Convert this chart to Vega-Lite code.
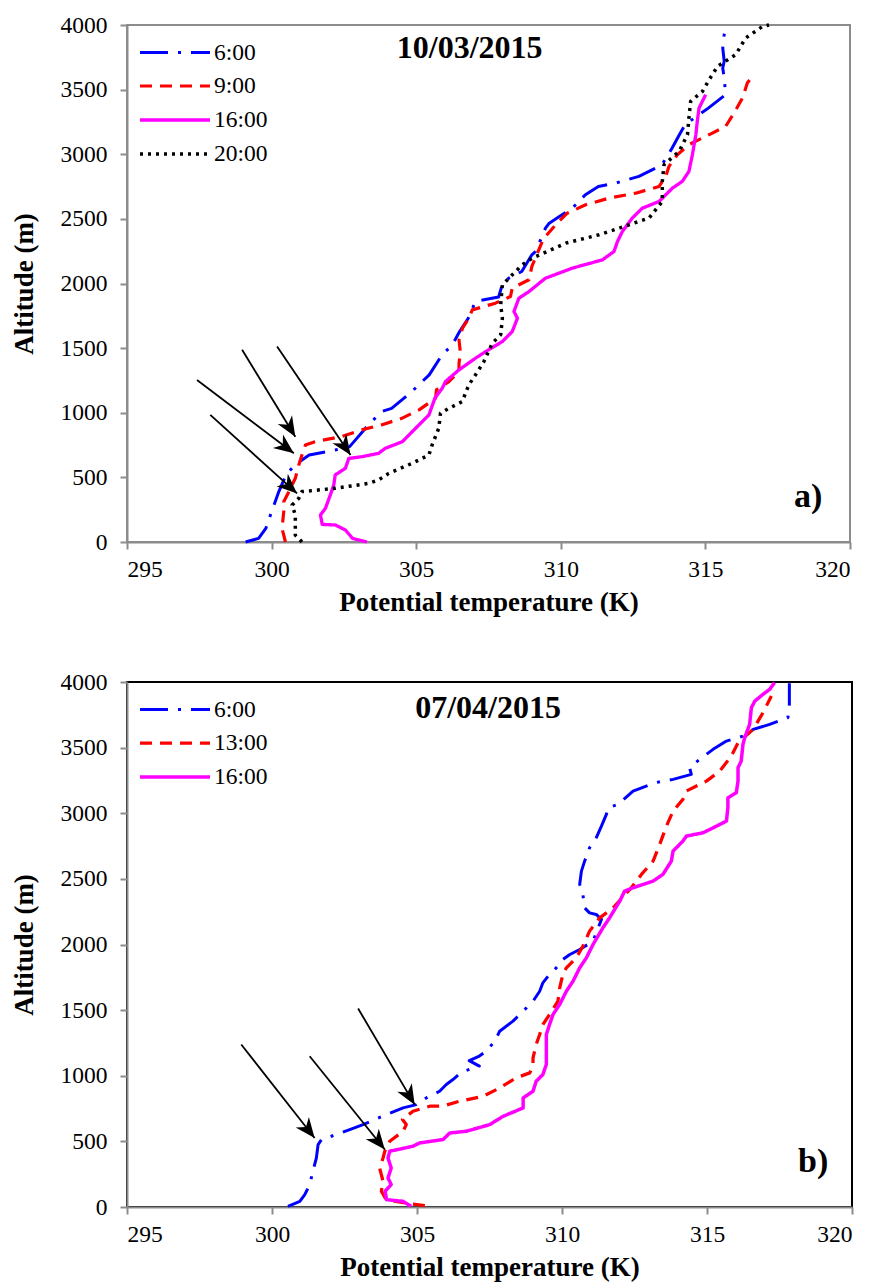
{
  "$schema": "https://vega.github.io/schema/vega-lite/v6.json",
  "background": "white",
  "padding": {"left": 9, "top": 12, "right": 10, "bottom": 2},
  "spacing": 52,
  "config": {
    "font": "Times New Roman",
    "axis": {
      "grid": false,
      "domainColor": "#8c8c8c",
      "domainWidth": 2,
      "tickColor": "#8c8c8c",
      "tickWidth": 2,
      "tickSize": 7,
      "labelFont": "Times New Roman",
      "labelFontSize": 23.5,
      "labelColor": "#000000",
      "titleFont": "Times New Roman",
      "titleFontSize": 27,
      "titleFontWeight": "bold",
      "titleColor": "#000000"
    },
    "axisX": {"labelPadding": 8, "titlePadding": 9},
    "axisY": {"labelPadding": 13, "titlePadding": 22},
    "legend": {
      "title": null,
      "orient": "none",
      "symbolType": "M-1,0H4",
      "symbolSize": 784,
      "symbolStrokeWidth": 3.5,
      "labelFont": "Times New Roman",
      "labelFontSize": 23.5,
      "labelColor": "#000000",
      "labelOffset": 44,
      "rowPadding": 6,
      "padding": 0
    }
  },
  "resolve": {
    "scale": {"x": "independent", "y": "independent", "color": "independent", "strokeDash": "independent", "strokeWidth": "independent"},
    "legend": {"color": "independent", "strokeDash": "independent"}
  },
  "vconcat": [
    {
      "width": 723,
      "height": 517,
      "view": {"stroke": "#8c8c8c", "strokeWidth": 2},
      "layer": [
        {
          "data": {"values": [
            {"series": "6:00", "t": 299.1, "alt": 0}, {"series": "6:00", "t": 299.55, "alt": 28}, {"series": "6:00", "t": 299.8, "alt": 105}, {"series": "6:00", "t": 300.0, "alt": 235}, {"series": "6:00", "t": 300.25, "alt": 390}, {"series": "6:00", "t": 300.5, "alt": 520}, {"series": "6:00", "t": 300.8, "alt": 596}, {"series": "6:00", "t": 301.3, "alt": 673}, {"series": "6:00", "t": 302.2, "alt": 712}, {"series": "6:00", "t": 302.7, "alt": 738}, {"series": "6:00", "t": 303.35, "alt": 906}, {"series": "6:00", "t": 303.8, "alt": 1009}, {"series": "6:00", "t": 304.15, "alt": 1034}, {"series": "6:00", "t": 304.85, "alt": 1164}, {"series": "6:00", "t": 305.45, "alt": 1293}, {"series": "6:00", "t": 305.9, "alt": 1450}, {"series": "6:00", "t": 306.25, "alt": 1525}, {"series": "6:00", "t": 306.5, "alt": 1628}, {"series": "6:00", "t": 306.8, "alt": 1731}, {"series": "6:00", "t": 306.95, "alt": 1809}, {"series": "6:00", "t": 307.05, "alt": 1861}, {"series": "6:00", "t": 307.85, "alt": 1895}, {"series": "6:00", "t": 307.98, "alt": 1995}, {"series": "6:00", "t": 308.2, "alt": 2041}, {"series": "6:00", "t": 308.65, "alt": 2093}, {"series": "6:00", "t": 309.0, "alt": 2222}, {"series": "6:00", "t": 309.13, "alt": 2248}, {"series": "6:00", "t": 309.47, "alt": 2428}, {"series": "6:00", "t": 309.6, "alt": 2467}, {"series": "6:00", "t": 309.95, "alt": 2519}, {"series": "6:00", "t": 310.4, "alt": 2583}, {"series": "6:00", "t": 310.85, "alt": 2687}, {"series": "6:00", "t": 311.3, "alt": 2751}, {"series": "6:00", "t": 311.9, "alt": 2777}, {"series": "6:00", "t": 312.7, "alt": 2829}, {"series": "6:00", "t": 313.05, "alt": 2867}, {"series": "6:00", "t": 313.5, "alt": 2919}, {"series": "6:00", "t": 313.85, "alt": 3048}, {"series": "6:00", "t": 314.1, "alt": 3151}, {"series": "6:00", "t": 314.3, "alt": 3229}, {"series": "6:00", "t": 315.1, "alt": 3357}, {"series": "6:00", "t": 315.7, "alt": 3461}, {"series": "6:00", "t": 315.65, "alt": 3590}, {"series": "6:00", "t": 315.6, "alt": 3667}, {"series": "6:00", "t": 315.65, "alt": 3720}, {"series": "6:00", "t": 315.6, "alt": 3822}, {"series": "6:00", "t": 315.65, "alt": 3926}, {"series": "6:00", "t": 315.75, "alt": 3990},

            {"series": "9:00", "t": 300.48, "alt": 0}, {"series": "9:00", "t": 300.36, "alt": 105}, {"series": "9:00", "t": 300.42, "alt": 235}, {"series": "9:00", "t": 300.42, "alt": 312}, {"series": "9:00", "t": 300.6, "alt": 390}, {"series": "9:00", "t": 300.82, "alt": 493}, {"series": "9:00", "t": 300.94, "alt": 596}, {"series": "9:00", "t": 301.05, "alt": 673}, {"series": "9:00", "t": 301.17, "alt": 751}, {"series": "9:00", "t": 301.5, "alt": 776}, {"series": "9:00", "t": 302.4, "alt": 815}, {"series": "9:00", "t": 303.1, "alt": 867}, {"series": "9:00", "t": 303.8, "alt": 906}, {"series": "9:00", "t": 304.5, "alt": 957}, {"series": "9:00", "t": 305.1, "alt": 1022}, {"series": "9:00", "t": 305.67, "alt": 1112}, {"series": "9:00", "t": 305.7, "alt": 1177}, {"series": "9:00", "t": 306.13, "alt": 1241}, {"series": "9:00", "t": 306.48, "alt": 1319}, {"series": "9:00", "t": 306.48, "alt": 1383}, {"series": "9:00", "t": 306.53, "alt": 1460}, {"series": "9:00", "t": 306.48, "alt": 1564}, {"series": "9:00", "t": 306.6, "alt": 1654}, {"series": "9:00", "t": 306.82, "alt": 1731}, {"series": "9:00", "t": 306.94, "alt": 1796}, {"series": "9:00", "t": 307.74, "alt": 1848}, {"series": "9:00", "t": 308.26, "alt": 1899}, {"series": "9:00", "t": 308.32, "alt": 1964}, {"series": "9:00", "t": 308.9, "alt": 2029}, {"series": "9:00", "t": 309.0, "alt": 2132}, {"series": "9:00", "t": 309.36, "alt": 2325}, {"series": "9:00", "t": 309.47, "alt": 2364}, {"series": "9:00", "t": 309.82, "alt": 2454}, {"series": "9:00", "t": 310.22, "alt": 2544}, {"series": "9:00", "t": 310.86, "alt": 2609}, {"series": "9:00", "t": 311.67, "alt": 2661}, {"series": "9:00", "t": 312.59, "alt": 2699}, {"series": "9:00", "t": 313.4, "alt": 2751}, {"series": "9:00", "t": 313.63, "alt": 2829}, {"series": "9:00", "t": 313.74, "alt": 2906}, {"series": "9:00", "t": 314.03, "alt": 2996}, {"series": "9:00", "t": 314.43, "alt": 3074}, {"series": "9:00", "t": 315.24, "alt": 3164}, {"series": "9:00", "t": 315.7, "alt": 3216}, {"series": "9:00", "t": 315.99, "alt": 3319}, {"series": "9:00", "t": 316.28, "alt": 3435}, {"series": "9:00", "t": 316.45, "alt": 3551}, {"series": "9:00", "t": 316.55, "alt": 3580},

            {"series": "16:00", "t": 303.3, "alt": 0}, {"series": "16:00", "t": 302.8, "alt": 28}, {"series": "16:00", "t": 302.55, "alt": 93}, {"series": "16:00", "t": 302.2, "alt": 132}, {"series": "16:00", "t": 301.75, "alt": 136}, {"series": "16:00", "t": 301.69, "alt": 209}, {"series": "16:00", "t": 301.86, "alt": 260}, {"series": "16:00", "t": 302.03, "alt": 364}, {"series": "16:00", "t": 302.15, "alt": 441}, {"series": "16:00", "t": 302.2, "alt": 519}, {"series": "16:00", "t": 302.55, "alt": 570}, {"series": "16:00", "t": 302.67, "alt": 647}, {"series": "16:00", "t": 303.13, "alt": 660}, {"series": "16:00", "t": 303.7, "alt": 686}, {"series": "16:00", "t": 303.93, "alt": 725}, {"series": "16:00", "t": 304.52, "alt": 776}, {"series": "16:00", "t": 304.98, "alt": 880}, {"series": "16:00", "t": 305.44, "alt": 983}, {"series": "16:00", "t": 305.65, "alt": 1115}, {"series": "16:00", "t": 305.9, "alt": 1189}, {"series": "16:00", "t": 306.01, "alt": 1241}, {"series": "16:00", "t": 306.48, "alt": 1332}, {"series": "16:00", "t": 307.05, "alt": 1422}, {"series": "16:00", "t": 307.4, "alt": 1473}, {"series": "16:00", "t": 307.98, "alt": 1551}, {"series": "16:00", "t": 308.32, "alt": 1628}, {"series": "16:00", "t": 308.5, "alt": 1731}, {"series": "16:00", "t": 308.38, "alt": 1783}, {"series": "16:00", "t": 308.55, "alt": 1886}, {"series": "16:00", "t": 308.9, "alt": 1938}, {"series": "16:00", "t": 309.47, "alt": 2041}, {"series": "16:00", "t": 310.4, "alt": 2119}, {"series": "16:00", "t": 311.44, "alt": 2183}, {"series": "16:00", "t": 311.84, "alt": 2248}, {"series": "16:00", "t": 311.96, "alt": 2325}, {"series": "16:00", "t": 312.13, "alt": 2403}, {"series": "16:00", "t": 312.47, "alt": 2506}, {"series": "16:00", "t": 312.82, "alt": 2583}, {"series": "16:00", "t": 313.4, "alt": 2635}, {"series": "16:00", "t": 313.86, "alt": 2738}, {"series": "16:00", "t": 314.2, "alt": 2790}, {"series": "16:00", "t": 314.43, "alt": 2867}, {"series": "16:00", "t": 314.55, "alt": 2996}, {"series": "16:00", "t": 314.67, "alt": 3151}, {"series": "16:00", "t": 314.72, "alt": 3255}, {"series": "16:00", "t": 314.78, "alt": 3357}, {"series": "16:00", "t": 315.01, "alt": 3461},

            {"series": "20:00", "t": 301.05, "alt": 0}, {"series": "20:00", "t": 300.82, "alt": 54}, {"series": "20:00", "t": 300.82, "alt": 209}, {"series": "20:00", "t": 300.71, "alt": 286}, {"series": "20:00", "t": 300.94, "alt": 338}, {"series": "20:00", "t": 301.05, "alt": 390}, {"series": "20:00", "t": 302.2, "alt": 415}, {"series": "20:00", "t": 303.36, "alt": 454}, {"series": "20:00", "t": 303.7, "alt": 480}, {"series": "20:00", "t": 304.05, "alt": 531}, {"series": "20:00", "t": 304.86, "alt": 609}, {"series": "20:00", "t": 305.44, "alt": 673}, {"series": "20:00", "t": 305.55, "alt": 751}, {"series": "20:00", "t": 305.78, "alt": 880}, {"series": "20:00", "t": 305.84, "alt": 996}, {"series": "20:00", "t": 306.13, "alt": 1034}, {"series": "20:00", "t": 306.59, "alt": 1086}, {"series": "20:00", "t": 306.82, "alt": 1216}, {"series": "20:00", "t": 307.05, "alt": 1293}, {"series": "20:00", "t": 307.34, "alt": 1396}, {"series": "20:00", "t": 307.63, "alt": 1538}, {"series": "20:00", "t": 307.92, "alt": 1603}, {"series": "20:00", "t": 307.98, "alt": 1731}, {"series": "20:00", "t": 307.92, "alt": 1835}, {"series": "20:00", "t": 307.98, "alt": 1990}, {"series": "20:00", "t": 308.67, "alt": 2145}, {"series": "20:00", "t": 309.01, "alt": 2196}, {"series": "20:00", "t": 310.17, "alt": 2312}, {"series": "20:00", "t": 311.32, "alt": 2377}, {"series": "20:00", "t": 312.01, "alt": 2428}, {"series": "20:00", "t": 313.05, "alt": 2506}, {"series": "20:00", "t": 313.51, "alt": 2635}, {"series": "20:00", "t": 313.51, "alt": 2790}, {"series": "20:00", "t": 313.57, "alt": 2919}, {"series": "20:00", "t": 314.09, "alt": 3022}, {"series": "20:00", "t": 314.38, "alt": 3151}, {"series": "20:00", "t": 314.43, "alt": 3280}, {"series": "20:00", "t": 314.49, "alt": 3409}, {"series": "20:00", "t": 314.9, "alt": 3487}, {"series": "20:00", "t": 315.13, "alt": 3577}, {"series": "20:00", "t": 315.42, "alt": 3680}, {"series": "20:00", "t": 316.05, "alt": 3771}, {"series": "20:00", "t": 316.39, "alt": 3899}, {"series": "20:00", "t": 316.97, "alt": 3988}, {"series": "20:00", "t": 317.2, "alt": 4000}
          ]},
          "mark": {"type": "line", "strokeJoin": "round"},
          "encoding": {
            "x": {"field": "t", "type": "quantitative", "title": "Potential temperature (K)", "scale": {"domain": [295, 320], "nice": false, "zero": false},
                  "axis": {"values": [295, 300, 305, 310, 315, 320], "format": "d"}},
            "y": {"field": "alt", "type": "quantitative", "title": "Altitude (m)", "scale": {"domain": [0, 4000], "nice": false},
                  "axis": {"values": [0, 500, 1000, 1500, 2000, 2500, 3000, 3500, 4000], "format": "d"}},
            "color": {"field": "series", "type": "nominal", "scale": {"domain": ["6:00", "9:00", "16:00", "20:00"], "range": ["#0000ff", "#ff0000", "#ff00ff", "#000000"]}, "legend": {"legendX": 11, "legendY": 12}},
            "strokeDash": {"field": "series", "type": "nominal", "scale": {"domain": ["6:00", "9:00", "16:00", "20:00"], "range": [[28, 10, 3, 10], [12, 8], [1, 0], [3, 5]]}, "legend": {"legendX": 11, "legendY": 12}},
            "strokeWidth": {"field": "series", "type": "ordinal", "scale": {"domain": ["6:00", "9:00", "16:00", "20:00"], "range": [3, 3.5, 4.5, 3.5]}, "legend": null},
            "order": {"field": "alt", "type": "quantitative"}
          }
        },
        {
          "data": {"values": [
            {"t": 297.42, "alt": 1254, "t2": 300.77, "alt2": 686},
            {"t": 298.98, "alt": 1487, "t2": 300.82, "alt2": 815},
            {"t": 300.19, "alt": 1512, "t2": 302.73, "alt2": 673},
            {"t": 297.88, "alt": 983, "t2": 300.88, "alt2": 376}
          ]},
          "layer": [
            {
              "mark": {"type": "rule", "color": "#000000", "strokeWidth": 1.8},
              "encoding": {
                "x": {"field": "t", "type": "quantitative", "title": "Potential temperature (K)"},
                "y": {"field": "alt", "type": "quantitative", "title": "Altitude (m)"},
                "x2": {"field": "t2"},
                "y2": {"field": "alt2"}
              }
            },
            {
              "mark": {"type": "point", "shape": "M0,0L-1,-0.42L-0.7,0L-1,0.42Z", "filled": true, "color": "#000000", "opacity": 1, "size": 1600,
                       "angle": {"expr": "atan2((datum.alt - datum.alt2) * 517 / 4000, (datum.t2 - datum.t) * 723 / 25) * 180 / PI"}},
              "encoding": {
                "x": {"field": "t2", "type": "quantitative", "title": "Potential temperature (K)"},
                "y": {"field": "alt2", "type": "quantitative", "title": "Altitude (m)"}
              }
            }
          ]
        },
        {
          "data": {"values": [{}]},
          "mark": {"type": "text", "text": "10/03/2015", "font": "Times New Roman", "fontSize": 32, "fontWeight": "bold", "align": "center", "baseline": "middle", "color": "#000000"},
          "encoding": {
            "x": {"datum": 306.85, "type": "quantitative", "title": "Potential temperature (K)"},
            "y": {"datum": 3823, "type": "quantitative", "title": "Altitude (m)"}
          }
        },
        {
          "data": {"values": [{}]},
          "mark": {"type": "text", "text": "a)", "font": "Times New Roman", "fontSize": 34, "fontWeight": "bold", "align": "center", "baseline": "middle", "color": "#000000"},
          "encoding": {
            "x": {"datum": 318.55, "type": "quantitative", "title": "Potential temperature (K)"},
            "y": {"datum": 350, "type": "quantitative", "title": "Altitude (m)"}
          }
        }
      ]
    },
    {
      "width": 725,
      "height": 525,
      "view": {"stroke": "#000000", "strokeWidth": 2},
      "layer": [
        {
          "data": {"values": [
            {"series": "6:00", "t": 300.55, "alt": 5}, {"series": "6:00", "t": 300.96, "alt": 43}, {"series": "6:00", "t": 301.13, "alt": 94}, {"series": "6:00", "t": 301.3, "alt": 171}, {"series": "6:00", "t": 301.41, "alt": 272}, {"series": "6:00", "t": 301.53, "alt": 374}, {"series": "6:00", "t": 301.59, "alt": 476}, {"series": "6:00", "t": 301.71, "alt": 514}, {"series": "6:00", "t": 302.22, "alt": 552}, {"series": "6:00", "t": 302.68, "alt": 590}, {"series": "6:00", "t": 303.14, "alt": 628}, {"series": "6:00", "t": 303.94, "alt": 704}, {"series": "6:00", "t": 304.52, "alt": 755}, {"series": "6:00", "t": 304.98, "alt": 780}, {"series": "6:00", "t": 305.32, "alt": 831}, {"series": "6:00", "t": 305.78, "alt": 882}, {"series": "6:00", "t": 306.01, "alt": 933}, {"series": "6:00", "t": 306.24, "alt": 971}, {"series": "6:00", "t": 306.55, "alt": 1030}, {"series": "6:00", "t": 307.15, "alt": 1073}, {"series": "6:00", "t": 306.8, "alt": 1115}, {"series": "6:00", "t": 307.15, "alt": 1150}, {"series": "6:00", "t": 307.39, "alt": 1187}, {"series": "6:00", "t": 307.68, "alt": 1263}, {"series": "6:00", "t": 307.85, "alt": 1339}, {"series": "6:00", "t": 308.31, "alt": 1416}, {"series": "6:00", "t": 308.66, "alt": 1492}, {"series": "6:00", "t": 309.0, "alt": 1568}, {"series": "6:00", "t": 309.23, "alt": 1644}, {"series": "6:00", "t": 309.34, "alt": 1708}, {"series": "6:00", "t": 309.52, "alt": 1759}, {"series": "6:00", "t": 309.8, "alt": 1822}, {"series": "6:00", "t": 310.03, "alt": 1886}, {"series": "6:00", "t": 310.27, "alt": 1924}, {"series": "6:00", "t": 310.61, "alt": 1962}, {"series": "6:00", "t": 311.07, "alt": 2025}, {"series": "6:00", "t": 311.18, "alt": 2089}, {"series": "6:00", "t": 311.36, "alt": 2191}, {"series": "6:00", "t": 311.18, "alt": 2229}, {"series": "6:00", "t": 310.95, "alt": 2241}, {"series": "6:00", "t": 310.78, "alt": 2279}, {"series": "6:00", "t": 310.72, "alt": 2381}, {"series": "6:00", "t": 310.61, "alt": 2458}, {"series": "6:00", "t": 310.67, "alt": 2559}, {"series": "6:00", "t": 310.78, "alt": 2635}, {"series": "6:00", "t": 310.95, "alt": 2737}, {"series": "6:00", "t": 311.18, "alt": 2813}, {"series": "6:00", "t": 311.36, "alt": 2902}, {"series": "6:00", "t": 311.53, "alt": 2991}, {"series": "6:00", "t": 311.59, "alt": 3042}, {"series": "6:00", "t": 311.93, "alt": 3067}, {"series": "6:00", "t": 312.45, "alt": 3169}, {"series": "6:00", "t": 313.2, "alt": 3232}, {"series": "6:00", "t": 313.83, "alt": 3258}, {"series": "6:00", "t": 314.46, "alt": 3296}, {"series": "6:00", "t": 314.4, "alt": 3347}, {"series": "6:00", "t": 314.75, "alt": 3411}, {"series": "6:00", "t": 315.21, "alt": 3487}, {"series": "6:00", "t": 315.67, "alt": 3550}, {"series": "6:00", "t": 316.24, "alt": 3588}, {"series": "6:00", "t": 316.59, "alt": 3639}, {"series": "6:00", "t": 317.16, "alt": 3677}, {"series": "6:00", "t": 317.79, "alt": 3728}, {"series": "6:00", "t": 317.84, "alt": 3830}, {"series": "6:00", "t": 317.84, "alt": 3918}, {"series": "6:00", "t": 317.84, "alt": 3990},

            {"series": "13:00", "t": 305.27, "alt": 10}, {"series": "13:00", "t": 304.6, "alt": 30}, {"series": "13:00", "t": 303.94, "alt": 56}, {"series": "13:00", "t": 303.77, "alt": 120}, {"series": "13:00", "t": 303.83, "alt": 196}, {"series": "13:00", "t": 303.71, "alt": 297}, {"series": "13:00", "t": 303.83, "alt": 374}, {"series": "13:00", "t": 303.89, "alt": 425}, {"series": "13:00", "t": 304.06, "alt": 501}, {"series": "13:00", "t": 304.52, "alt": 577}, {"series": "13:00", "t": 304.63, "alt": 628}, {"series": "13:00", "t": 304.5, "alt": 666}, {"series": "13:00", "t": 304.86, "alt": 730}, {"series": "13:00", "t": 305.44, "alt": 768}, {"series": "13:00", "t": 305.9, "alt": 770}, {"series": "13:00", "t": 306.47, "alt": 806}, {"series": "13:00", "t": 307.28, "alt": 844}, {"series": "13:00", "t": 307.85, "alt": 907}, {"series": "13:00", "t": 308.42, "alt": 984}, {"series": "13:00", "t": 308.89, "alt": 1022}, {"series": "13:00", "t": 309.0, "alt": 1073}, {"series": "13:00", "t": 309.0, "alt": 1136}, {"series": "13:00", "t": 309.11, "alt": 1238}, {"series": "13:00", "t": 309.23, "alt": 1314}, {"series": "13:00", "t": 309.34, "alt": 1390}, {"series": "13:00", "t": 309.57, "alt": 1467}, {"series": "13:00", "t": 309.86, "alt": 1568}, {"series": "13:00", "t": 309.92, "alt": 1669}, {"series": "13:00", "t": 310.03, "alt": 1772}, {"series": "13:00", "t": 310.15, "alt": 1822}, {"series": "13:00", "t": 310.49, "alt": 1898}, {"series": "13:00", "t": 310.72, "alt": 1987}, {"series": "13:00", "t": 310.95, "alt": 2102}, {"series": "13:00", "t": 311.3, "alt": 2203}, {"series": "13:00", "t": 311.76, "alt": 2279}, {"series": "13:00", "t": 312.39, "alt": 2432}, {"series": "13:00", "t": 312.74, "alt": 2534}, {"series": "13:00", "t": 313.14, "alt": 2635}, {"series": "13:00", "t": 313.37, "alt": 2763}, {"series": "13:00", "t": 313.6, "alt": 2902}, {"series": "13:00", "t": 313.83, "alt": 3016}, {"series": "13:00", "t": 314.17, "alt": 3106}, {"series": "13:00", "t": 314.29, "alt": 3169}, {"series": "13:00", "t": 314.98, "alt": 3245}, {"series": "13:00", "t": 315.44, "alt": 3321}, {"series": "13:00", "t": 315.84, "alt": 3436}, {"series": "13:00", "t": 316.07, "alt": 3537}, {"series": "13:00", "t": 316.59, "alt": 3639}, {"series": "13:00", "t": 316.93, "alt": 3766}, {"series": "13:00", "t": 317.22, "alt": 3893},

            {"series": "16:00", "t": 304.8, "alt": 5}, {"series": "16:00", "t": 304.52, "alt": 43}, {"series": "16:00", "t": 303.95, "alt": 56}, {"series": "16:00", "t": 303.9, "alt": 120}, {"series": "16:00", "t": 304.11, "alt": 171}, {"series": "16:00", "t": 304.0, "alt": 221}, {"series": "16:00", "t": 304.11, "alt": 297}, {"series": "16:00", "t": 304.0, "alt": 374}, {"series": "16:00", "t": 304.06, "alt": 425}, {"series": "16:00", "t": 304.34, "alt": 438}, {"series": "16:00", "t": 304.86, "alt": 463}, {"series": "16:00", "t": 305.09, "alt": 488}, {"series": "16:00", "t": 305.9, "alt": 514}, {"series": "16:00", "t": 306.13, "alt": 564}, {"series": "16:00", "t": 306.7, "alt": 577}, {"series": "16:00", "t": 307.51, "alt": 628}, {"series": "16:00", "t": 307.97, "alt": 691}, {"series": "16:00", "t": 308.66, "alt": 755}, {"series": "16:00", "t": 308.66, "alt": 831}, {"series": "16:00", "t": 309.0, "alt": 882}, {"series": "16:00", "t": 309.11, "alt": 958}, {"series": "16:00", "t": 309.34, "alt": 1009}, {"series": "16:00", "t": 309.46, "alt": 1086}, {"series": "16:00", "t": 309.46, "alt": 1187}, {"series": "16:00", "t": 309.46, "alt": 1314}, {"series": "16:00", "t": 309.57, "alt": 1390}, {"series": "16:00", "t": 309.69, "alt": 1467}, {"series": "16:00", "t": 309.92, "alt": 1543}, {"series": "16:00", "t": 310.15, "alt": 1644}, {"series": "16:00", "t": 310.38, "alt": 1720}, {"series": "16:00", "t": 310.61, "alt": 1822}, {"series": "16:00", "t": 310.84, "alt": 1898}, {"series": "16:00", "t": 311.07, "alt": 2000}, {"series": "16:00", "t": 311.41, "alt": 2127}, {"series": "16:00", "t": 311.64, "alt": 2203}, {"series": "16:00", "t": 311.99, "alt": 2330}, {"series": "16:00", "t": 312.16, "alt": 2407}, {"series": "16:00", "t": 312.45, "alt": 2432}, {"series": "16:00", "t": 313.14, "alt": 2483}, {"series": "16:00", "t": 313.48, "alt": 2534}, {"series": "16:00", "t": 313.77, "alt": 2635}, {"series": "16:00", "t": 313.83, "alt": 2712}, {"series": "16:00", "t": 314.17, "alt": 2788}, {"series": "16:00", "t": 314.29, "alt": 2826}, {"series": "16:00", "t": 314.86, "alt": 2851}, {"series": "16:00", "t": 315.21, "alt": 2889}, {"series": "16:00", "t": 315.67, "alt": 2940}, {"series": "16:00", "t": 315.72, "alt": 3042}, {"series": "16:00", "t": 315.72, "alt": 3118}, {"series": "16:00", "t": 316.01, "alt": 3156}, {"series": "16:00", "t": 316.07, "alt": 3245}, {"series": "16:00", "t": 316.07, "alt": 3347}, {"series": "16:00", "t": 316.18, "alt": 3398}, {"series": "16:00", "t": 316.24, "alt": 3525}, {"series": "16:00", "t": 316.3, "alt": 3575}, {"series": "16:00", "t": 316.47, "alt": 3677}, {"series": "16:00", "t": 316.53, "alt": 3804}, {"series": "16:00", "t": 316.65, "alt": 3855}, {"series": "16:00", "t": 316.93, "alt": 3906}, {"series": "16:00", "t": 317.16, "alt": 3944}, {"series": "16:00", "t": 317.33, "alt": 3995}
          ]},
          "mark": {"type": "line", "strokeJoin": "round"},
          "encoding": {
            "x": {"field": "t", "type": "quantitative", "title": "Potential temperature (K)", "scale": {"domain": [295, 320], "nice": false, "zero": false},
                  "axis": {"values": [295, 300, 305, 310, 315, 320], "format": "d"}},
            "y": {"field": "alt", "type": "quantitative", "title": "Altitude (m)", "scale": {"domain": [0, 4000], "nice": false},
                  "axis": {"values": [0, 500, 1000, 1500, 2000, 2500, 3000, 3500, 4000], "format": "d"}},
            "color": {"field": "series", "type": "nominal", "scale": {"domain": ["6:00", "13:00", "16:00"], "range": ["#0000ff", "#ff0000", "#ff00ff"]}, "legend": {"legendX": 11, "legendY": 12}},
            "strokeDash": {"field": "series", "type": "nominal", "scale": {"domain": ["6:00", "13:00", "16:00"], "range": [[28, 10, 3, 10], [12, 8], [1, 0]]}, "legend": {"legendX": 11, "legendY": 12}},
            "strokeWidth": {"field": "series", "type": "ordinal", "scale": {"domain": ["6:00", "13:00", "16:00"], "range": [3, 3.5, 4.5]}, "legend": null},
            "order": {"field": "alt", "type": "quantitative"}
          }
        },
        {
          "data": {"values": [
            {"t": 298.94, "alt": 1238, "t2": 301.47, "alt2": 526},
            {"t": 301.3, "alt": 1149, "t2": 303.89, "alt2": 438},
            {"t": 302.97, "alt": 1512, "t2": 304.92, "alt2": 780}
          ]},
          "layer": [
            {
              "mark": {"type": "rule", "color": "#000000", "strokeWidth": 1.8},
              "encoding": {
                "x": {"field": "t", "type": "quantitative", "title": "Potential temperature (K)"},
                "y": {"field": "alt", "type": "quantitative", "title": "Altitude (m)"},
                "x2": {"field": "t2"},
                "y2": {"field": "alt2"}
              }
            },
            {
              "mark": {"type": "point", "shape": "M0,0L-1,-0.42L-0.7,0L-1,0.42Z", "filled": true, "color": "#000000", "opacity": 1, "size": 1600,
                       "angle": {"expr": "atan2((datum.alt - datum.alt2) * 525 / 4000, (datum.t2 - datum.t) * 725 / 25) * 180 / PI"}},
              "encoding": {
                "x": {"field": "t2", "type": "quantitative", "title": "Potential temperature (K)"},
                "y": {"field": "alt2", "type": "quantitative", "title": "Altitude (m)"}
              }
            }
          ]
        },
        {
          "data": {"values": [{}]},
          "mark": {"type": "text", "text": "07/04/2015", "font": "Times New Roman", "fontSize": 32, "fontWeight": "bold", "align": "center", "baseline": "middle", "color": "#000000"},
          "encoding": {
            "x": {"datum": 307.45, "type": "quantitative", "title": "Potential temperature (K)"},
            "y": {"datum": 3802, "type": "quantitative", "title": "Altitude (m)"}
          }
        },
        {
          "data": {"values": [{}]},
          "mark": {"type": "text", "text": "b)", "font": "Times New Roman", "fontSize": 34, "fontWeight": "bold", "align": "center", "baseline": "middle", "color": "#000000"},
          "encoding": {
            "x": {"datum": 318.66, "type": "quantitative", "title": "Potential temperature (K)"},
            "y": {"datum": 345, "type": "quantitative", "title": "Altitude (m)"}
          }
        }
      ]
    }
  ]
}
